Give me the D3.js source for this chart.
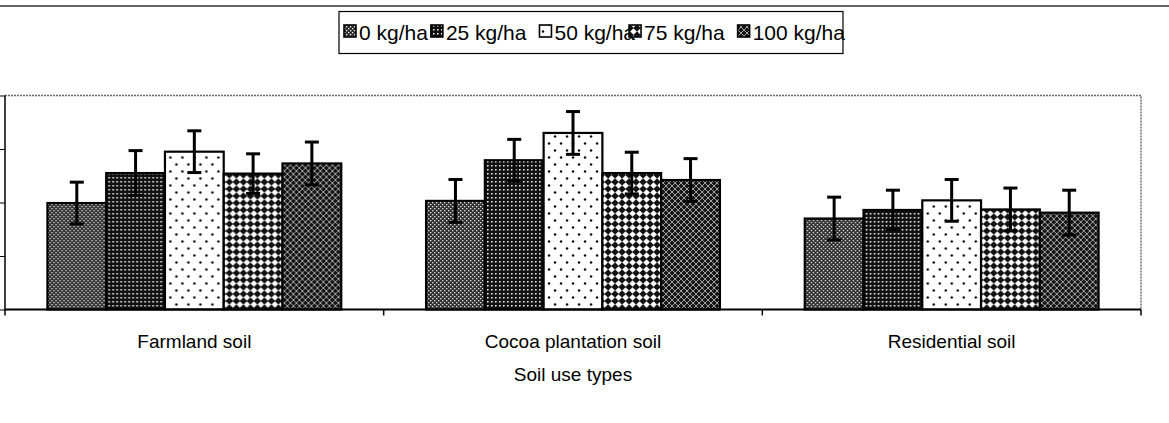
<!DOCTYPE html>
<html>
<head>
<meta charset="utf-8">
<script src="https://cdn.jsdelivr.net/npm/d3@7"></script>
<style>
  body { margin: 0; background: #fff; }
  svg { display: block; font-family: "Liberation Sans", Arial, sans-serif; }
</style>
</head>
<body>
<div id="chart"></div>
<script>
// data

var soils = ["Farmland soil", "Cocoa plantation soil", "Residential soil"];
var doses = ["0 kg/ha", "25 kg/ha", "50 kg/ha", "75 kg/ha", "100 kg/ha"];

// one array per dose, values per soil
var dose0   = [19.9, 20.3, 17.0];
var dose25  = [25.5, 27.9, 18.6];
var dose50  = [29.5, 33.0, 20.4];
var dose75  = [25.4, 25.5, 18.7];
var dose100 = [27.3, 24.2, 18.1];

// error (+/-) per dose
var err0   = [3.9, 4.0, 4.0];
var err25  = [4.2, 3.9, 3.7];
var err50  = [3.9, 4.0, 3.9];
var err75  = [3.7, 3.9, 4.0];
var err100 = [4.0, 4.0, 4.2];

var yTicks = [0, 10, 20, 30, 40];

// initial settings

var svgWidth = 1169;
var svgHeight = 423;

var plot = { left: 5, right: 1141, top: 95.5, bottom: 309.5 };

var svg = d3.select("#chart")
  .append("svg")
  .attr("width", svgWidth)
  .attr("height", svgHeight);

// fill patterns for the doses

var defs = svg.append("defs");

function pattern(id, w, h) {
  return defs.append("pattern")
    .attr("id", id)
    .attr("patternUnits", "userSpaceOnUse")
    .attr("width", w)
    .attr("height", h);
}

// 0 kg/ha: fine grey checker
var p0 = pattern("p0", 4, 4);
p0.append("rect").attr("width", 4).attr("height", 4).attr("fill", "#2e2e2e");
p0.append("rect").attr("x", 0).attr("y", 0).attr("width", 1.3).attr("height", 1.3).attr("fill", "#eee");
p0.append("rect").attr("x", 2).attr("y", 2).attr("width", 1.3).attr("height", 1.3).attr("fill", "#eee");

// 25 kg/ha: black with small white dots
var p1 = pattern("p1", 4, 4);
p1.append("rect").attr("width", 4).attr("height", 4).attr("fill", "#111");
p1.append("rect").attr("x", 1).attr("y", 1).attr("width", 1.5).attr("height", 1.5).attr("fill", "#fff");

// 50 kg/ha: white with sparse black dots
var p2 = pattern("p2", 12, 14);
p2.append("rect").attr("width", 12).attr("height", 14).attr("fill", "#fff");
p2.append("circle").attr("cx", 3).attr("cy", 3.5).attr("r", 1.2).attr("fill", "#000");
p2.append("circle").attr("cx", 9).attr("cy", 10.5).attr("r", 1.2).attr("fill", "#000");

// 75 kg/ha: white diamonds on black lattice
var p3 = pattern("p3", 7, 7);
p3.append("rect").attr("width", 7).attr("height", 7).attr("fill", "#111");
p3.append("polygon").attr("points", "3.5,0.2 6.8,3.5 3.5,6.8 0.2,3.5").attr("fill", "#fff");

// 100 kg/ha: dark with thin white cross-hatch
var p4 = pattern("p4", 6, 6);
p4.append("rect").attr("width", 6).attr("height", 6).attr("fill", "#151515");
p4.append("path").attr("d", "M0,0L6,6M6,0L0,6").attr("stroke", "#c8c8c8").attr("stroke-width", 0.8);

var fills = ["url(#p0)", "url(#p1)", "url(#p2)", "url(#p3)", "url(#p4)"];

// scales

var x0 = d3.scaleBand()
  .domain(soils)
  .range([plot.left, plot.right])
  .paddingInner(0.224)
  .paddingOuter(0.112);

var x1 = d3.scaleBand()
  .domain(doses)
  .range([0, x0.bandwidth()]);

var y = d3.scaleLinear()
  .domain([0, 40])
  .range([plot.bottom, plot.top]);

// page rule at the top
svg.append("line")
  .attr("x1", 0).attr("x2", svgWidth)
  .attr("y1", 6).attr("y2", 6)
  .attr("stroke", "#333")
  .attr("stroke-width", 1.5);

// plot frame (top and right, dotted grey)
svg.append("path")
  .attr("d", `M${plot.left},${plot.top}H${plot.right}V${plot.bottom}`)
  .attr("fill", "none")
  .attr("stroke", "#666")
  .attr("stroke-width", 1.4)
  .attr("stroke-dasharray", "2,1");

// bars

var values = [dose0, dose25, dose50, dose75, dose100];
var errors = [err0, err25, err50, err75, err100];

var rows = [];
soils.forEach((s, i) => {
  doses.forEach((d, j) => {
    rows.push({ soil: s, dose: d, k: j, value: values[j][i], err: errors[j][i] });
  });
});

var groups = svg.selectAll(".group")
  .data(soils)
  .enter()
  .append("g")
  .attr("class", "group")
  .attr("transform", d => `translate(${x0(d)},0)`);

groups.selectAll("rect")
  .data(s => rows.filter(r => r.soil === s))
  .enter()
  .append("rect")
  .attr("x", d => x1(d.dose))
  .attr("y", d => y(d.value))
  .attr("width", x1.bandwidth())
  .attr("height", d => y(0) - y(d.value))
  .attr("fill", d => fills[d.k])
  .attr("stroke", "#000")
  .attr("stroke-width", 2.2);

// error bars

var capHalf = 7;
var errs = groups.selectAll(".err")
  .data(s => rows.filter(r => r.soil === s))
  .enter()
  .append("g")
  .attr("class", "err")
  .attr("stroke", "#000")
  .attr("stroke-width", 3);

errs.append("line")
  .attr("x1", d => x1(d.dose) + x1.bandwidth() / 2)
  .attr("x2", d => x1(d.dose) + x1.bandwidth() / 2)
  .attr("y1", d => y(d.value + d.err))
  .attr("y2", d => y(d.value - d.err));

errs.append("line")
  .attr("x1", d => x1(d.dose) + x1.bandwidth() / 2 - capHalf)
  .attr("x2", d => x1(d.dose) + x1.bandwidth() / 2 + capHalf)
  .attr("y1", d => y(d.value + d.err))
  .attr("y2", d => y(d.value + d.err));

errs.append("line")
  .attr("x1", d => x1(d.dose) + x1.bandwidth() / 2 - capHalf)
  .attr("x2", d => x1(d.dose) + x1.bandwidth() / 2 + capHalf)
  .attr("y1", d => y(d.value - d.err))
  .attr("y2", d => y(d.value - d.err));

// y axis: the number labels are outside the photographed area, so ticks only

var yaxis = svg.append("g")
  .attr("transform", `translate(${plot.left},0)`)
  .call(d3.axisLeft(y).tickValues(yTicks).tickSize(5).tickSizeOuter(0).tickFormat(""));

yaxis.select(".domain")
  .attr("d", `M0,${plot.top}V${plot.bottom + 6}`)
  .attr("stroke-width", 1.5);

// x axis: baseline plus boundary ticks

var xaxis = svg.append("g")
  .attr("transform", `translate(0,${plot.bottom})`)
  .call(d3.axisBottom(x0).tickSize(0).tickPadding(25));

xaxis.select(".domain")
  .attr("d", `M${plot.left},0H${plot.right}`)
  .attr("stroke-width", 1.8);

xaxis.selectAll(".tick text")
  .attr("font-size", 19)
  .attr("font-family", "'Liberation Sans', Arial, sans-serif")
  .attr("fill", "#000");

var bounds = d3.range(soils.length + 1).map(i => plot.left + i * x0.step());

xaxis.selectAll(".bound")
  .data(bounds.slice(1))
  .enter()
  .append("line")
  .attr("class", "bound")
  .attr("x1", d => d).attr("x2", d => d)
  .attr("y1", 0).attr("y2", 6)
  .attr("stroke", "#000")
  .attr("stroke-width", 1.5);

// axis title

svg.append("text")
  .attr("x", (plot.left + plot.right) / 2)
  .attr("y", 381)
  .attr("text-anchor", "middle")
  .attr("font-size", 19)
  .text("Soil use types");

// legend

var legend = svg.append("g");

legend.append("rect")
  .attr("x", 339).attr("y", 11.5)
  .attr("width", 504).attr("height", 42)
  .attr("fill", "#fff")
  .attr("stroke", "#000")
  .attr("stroke-width", 1.2);

// gap after each entry (the 50 kg/ha entry runs under the next swatch, as in the original)
var legendGap = [3, 13, -6, 13, 0];
var lx = 344;
var items = [];
doses.forEach((d, j) => {
  var t = legend.append("text")
    .attr("x", lx + 15)
    .attr("y", 39.5)
    .attr("font-size", 21)
    .text(d);
  items.push({ x: lx, k: j });
  lx += 15 + t.node().getComputedTextLength() + legendGap[j];
});

legend.selectAll(".swatch")
  .data(items)
  .enter()
  .append("rect")
  .attr("class", "swatch")
  .attr("x", d => d.x).attr("y", 25)
  .attr("width", 12).attr("height", 12)
  .attr("fill", d => fills[d.k])
  .attr("stroke", "#000")
  .attr("stroke-width", 1.6);
</script>
</body>
</html>
